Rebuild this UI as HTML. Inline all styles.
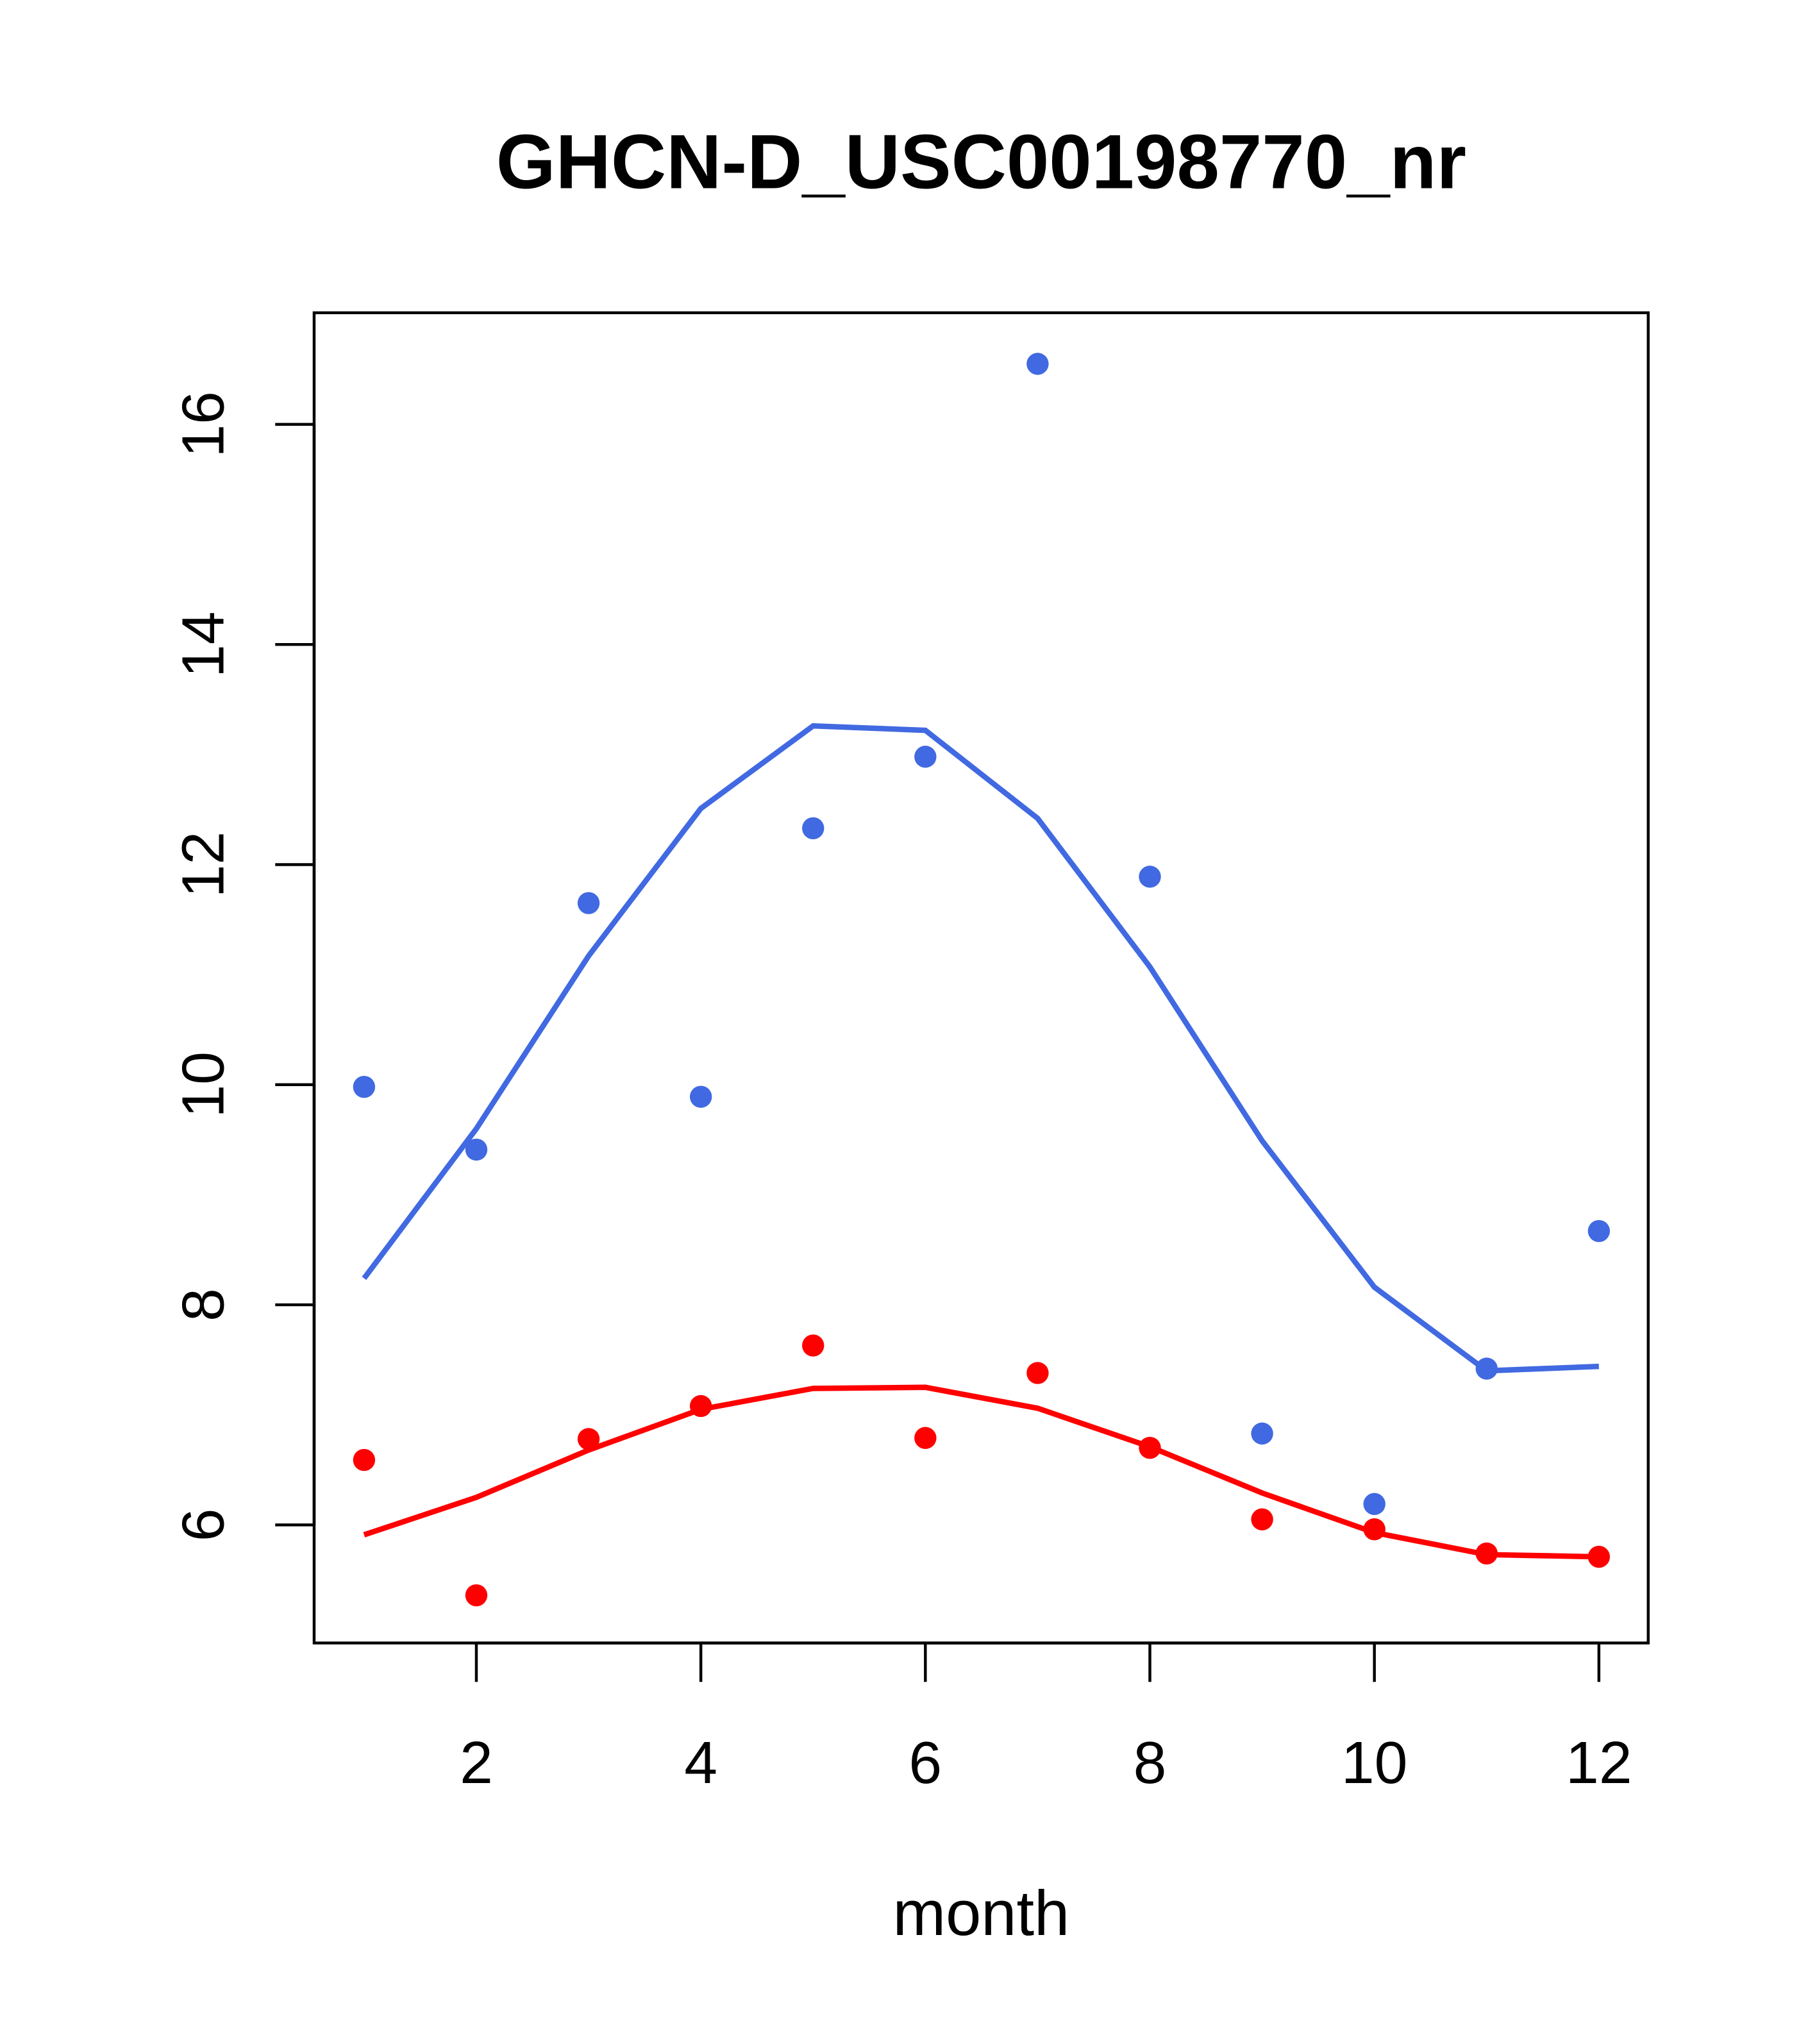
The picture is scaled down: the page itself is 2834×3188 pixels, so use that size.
<!DOCTYPE html>
<html><head><meta charset="utf-8"><style>html,body{margin:0;padding:0;background:#fff}svg{display:block}</style></head>
<body>
<svg id="chart" width="2834" height="3188" viewBox="0 0 1400 1575" xmlns="http://www.w3.org/2000/svg" font-family="Liberation Sans, sans-serif">
<text x="756" y="145" text-anchor="middle" font-size="59" font-weight="bold">GHCN-D_USC00198770_nr</text>
<rect x="242" y="241" width="1028" height="1025" fill="none" stroke="#000" stroke-width="2.2"/>
<g id="xaxis"></g>
<g id="yaxis"></g>
<text x="756" y="1491" text-anchor="middle" font-size="49">month</text>
<g id="marks"></g>
</svg>
<script>
const months=[1,2,3,4,5,6,7,8,9,10,11,12];
const bluePoints=[9.98,9.41,11.65,9.89,12.33,12.98,16.55,11.89,6.83,6.19,7.42,8.67];
const blueLine=[8.24,9.6,11.17,12.51,13.26,13.22,12.42,11.07,9.49,8.16,7.40,7.44];
const redPoints=[6.59,5.36,6.78,7.08,7.63,6.79,7.38,6.70,6.05,5.96,5.74,5.71];
const redLine=[5.91,6.25,6.68,7.05,7.24,7.25,7.06,6.71,6.29,5.93,5.73,5.71];
const xTicks=[2,4,6,8,10,12];
const yTicks=[6,8,10,12,14,16];
const NS='http://www.w3.org/2000/svg';
function xs(m){return 367+(m-2)*86.5;}
function ys(v){return 1175-(v-6)*84.8;}
function mk(tag,attrs,parent){const e=document.createElementNS(NS,tag);for(const k in attrs)e.setAttribute(k,attrs[k]);parent.appendChild(e);return e;}
const xa=document.getElementById('xaxis'),ya=document.getElementById('yaxis'),g=document.getElementById('marks');
mk('line',{x1:xs(2),x2:xs(12),y1:1266,y2:1266,stroke:'#000','stroke-width':2.2},xa);
xTicks.forEach(t=>{
 const l=mk('line',{x1:xs(t),x2:xs(t),y1:1266,y2:1296,stroke:'#000','stroke-width':2.2},xa);
 
 
 const tx=mk('text',{x:xs(t),y:1374,'text-anchor':'middle','font-size':46},xa);tx.textContent=t;
 
 
});
mk('line',{x1:242,x2:242,y1:ys(6),y2:ys(16),stroke:'#000','stroke-width':2.2},ya);
yTicks.forEach(t=>{
 const l=mk('line',{x1:212,x2:242,y1:ys(t),y2:ys(t),stroke:'#000','stroke-width':2.2},ya);
 
 
 const tx=mk('text',{x:0,y:0,'text-anchor':'middle','font-size':46,transform:`translate(172,${ys(t)}) rotate(-90)`},ya);tx.textContent=t;
 
 
});
function line(vals,color,name){
 const p=mk('polyline',{points:months.map((m,i)=>xs(m)+','+ys(vals[i])).join(' '),fill:'none',stroke:color,'stroke-width':4.2},g);
 
 
}
function pts(vals,color,name){
 months.forEach((m,i)=>{
  const c=mk('circle',{cx:xs(m),cy:ys(vals[i]),r:8.5,fill:color},g);
  
  
 });
}
line(blueLine,'#4169E1','blue-fit-line');
line(redLine,'#FF0000','red-fit-line');
pts(bluePoints,'#4169E1','blue-point');
pts(redPoints,'#FF0000','red-point');
</script>
</body></html>
